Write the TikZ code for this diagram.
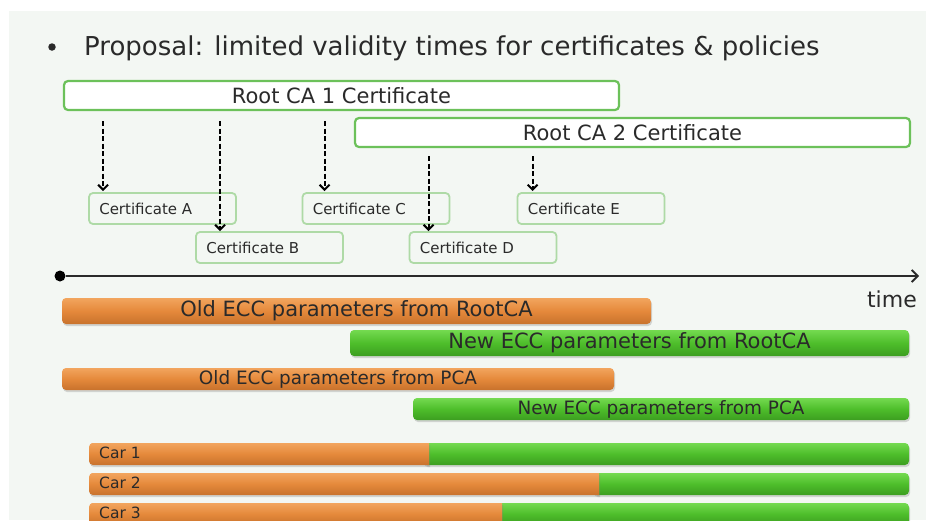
\documentclass[tikz,border=0pt]{standalone}
\usepackage{fontspec}
\setmainfont{DejaVu Sans}
\usetikzlibrary{arrows.meta,shadows,calc}
\definecolor{bg}{HTML}{F3F7F3}
\definecolor{rootgreen}{HTML}{6CC15A}
\definecolor{certgreen}{HTML}{AEDAA6}
\definecolor{orgtop}{HTML}{F2A55E}
\definecolor{orgmid}{HTML}{E5893B}
\definecolor{orgbot}{HTML}{C8722C}
\definecolor{grntop}{HTML}{74DA50}
\definecolor{grnmid}{HTML}{4EBE2B}
\definecolor{grnbot}{HTML}{3C9E20}
\definecolor{txt}{HTML}{2A2A2A}
\tikzset{
  rootbox/.style={draw=rootgreen, line width=2.2pt, rounded corners=4pt, inner sep=0pt, fill=white, minimum height=29pt},
  certbox/.style={draw=certgreen, line width=1.8pt, rounded corners=4pt, inner sep=0pt, fill=bg, minimum width=147pt, minimum height=31pt},
  certtxt/.style={anchor=west, inner sep=0pt, text=txt, font=\fontsize{15}{17}\selectfont},
  darr/.style={line width=2pt, dash pattern=on 5pt off 2.5pt, -{Straight Barb[length=5pt,width=10pt]}},
  shad/.style={drop shadow={opacity=0.3, shadow xshift=1pt, shadow yshift=-2pt}},
  obar/.style={shad, rounded corners=4pt, inner sep=0pt, top color=orgtop, bottom color=orgbot, middle color=orgmid, text=txt},
  gbar/.style={shad, rounded corners=4pt, inner sep=0pt, top color=grntop, bottom color=grnbot, middle color=grnmid, text=txt},
  cartxt/.style={anchor=west, inner sep=0pt, text=txt, font=\fontsize{15.5}{17}\selectfont}
}
\begin{document}
\begin{tikzpicture}[x=1pt,y=-1pt]
\useasboundingbox (0,0) rectangle (926,520);
\fill[white] (0,0) rectangle (926,520);
\fill[bg] (9,11) rectangle (926,520);

% title
\node[circle, fill=txt, minimum size=7.5pt, inner sep=0pt] (bullet) at (52,47) {};
\node[anchor=base west, inner sep=0pt, text=txt, font=\fontsize{26}{30}\selectfont] (title) at (84,55) {Proposal: limited validity times for certificates \& policies};

% root certificates
\node[rootbox, minimum width=555pt, font=\fontsize{21}{24}\selectfont, text=txt] (r1) at (341.5,95.5) {Root CA 1 Certificate};
\node[rootbox, minimum width=555pt, font=\fontsize{21}{24}\selectfont, text=txt] (r2) at (632.5,132.5) {Root CA 2 Certificate};

% certificates
\node[certbox] (A) at (162.5,208.5) {};
\node[certbox] (B) at (269.5,247.5) {};
\node[certbox] (C) at (376,208.5) {};
\node[certbox] (D) at (483,247.5) {};
\node[certbox] (E) at (591,208.5) {};
\node[certtxt] (tA) at ($(A.west)+(11,0)$) {Certificate A};
\node[certtxt] (tB) at ($(B.west)+(11,0)$) {Certificate B};
\node[certtxt] (tC) at ($(C.west)+(11,0)$) {Certificate C};
\node[certtxt] (tD) at ($(D.west)+(11,0)$) {Certificate D};
\node[certtxt] (tE) at ($(E.west)+(11,0)$) {Certificate E};

\coordinate (eA) at ($(A.north west)+(15,-1)$);
\coordinate (eB) at ($(B.north west)+(25,0)$);
\coordinate (eC) at ($(C.north west)+(23,-1)$);
\coordinate (eD) at ($(D.north west)+(20,0)$);
\coordinate (eE) at ($(E.north west)+(16,-1)$);
\draw[darr] ($(r1.south -| eA)+(0,10)$) -- (eA);
\draw[darr] ($(r1.south -| eB)+(0,10)$) -- (eB);
\draw[darr] ($(r1.south -| eC)+(0,10)$) -- (eC);
\draw[darr] ($(r2.south -| eD)+(0,8)$) -- (eD);
\draw[darr] ($(r2.south -| eE)+(0,8)$) -- (eE);

% time axis
\node[circle, fill=black, minimum size=11pt, inner sep=0pt] (t0) at (60,276) {};
\coordinate (t1) at (919,276);
\draw[line width=1.8pt, draw=txt, -{Straight Barb[length=6pt,width=12pt]}] (t0) -- (t1);
\node[anchor=base east, inner sep=0pt, text=txt, font=\fontsize{22}{26}\selectfont] (time) at (917,307) {time};

% ECC bars
\node[obar, minimum width=589pt, minimum height=26pt, font=\fontsize{21}{24}\selectfont] (oroot) at (356.5,311) {Old ECC parameters from RootCA};
\node[gbar, minimum width=559pt, minimum height=26pt, font=\fontsize{21}{24}\selectfont] (nroot) at (629.5,343) {New ECC parameters from RootCA};
\node[obar, minimum width=552pt, minimum height=22pt, font=\fontsize{18.4}{21}\selectfont] (opca) at (338,379) {Old ECC parameters from PCA};
\node[gbar, minimum width=496pt, minimum height=22pt, font=\fontsize{18.4}{21}\selectfont] (npca) at (661,409) {New ECC parameters from PCA};

% cars
\foreach \i/\y/\s in {1/443/429, 2/473/599, 3/503/502}{
  \path[gbar] (\s-6,\y) rectangle (909,\y+22);
  \path[obar, shad/.style={}] (\s,\y) -- (95,\y) [rounded corners=4pt] -- (89,\y) -- (89,\y+22) -- (95,\y+22) [sharp corners] -- (\s,\y+22) -- cycle;
  \node[cartxt] (car\i) at (99,\y+10) {Car \i};
}
\end{tikzpicture}
\end{document}
